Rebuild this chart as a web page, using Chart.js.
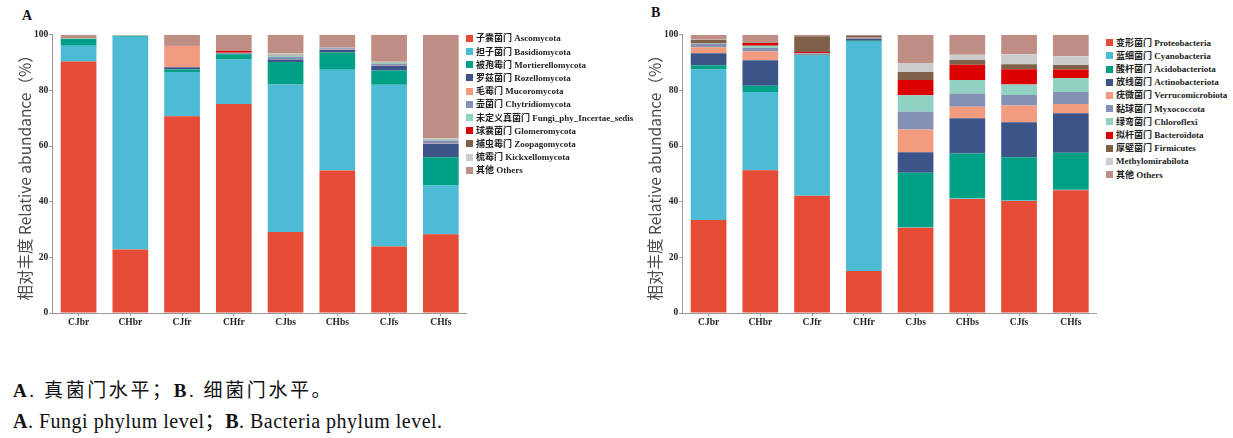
<!DOCTYPE html>
<html>
<head>
<meta charset="utf-8">
<script src="https://cdn.jsdelivr.net/npm/chart.js@4.4.1/dist/chart.umd.min.js"></script>
<style>
body { margin:0; background:#fff; width:1233px; height:438px; overflow:hidden; position:relative; font-family:"Liberation Serif","Noto Sans CJK SC",serif; }
.panel { position:absolute; top:0; }
.tag { position:absolute; font-weight:bold; font-size:14px; color:#111; }
.legend { position:absolute; font-size:9px; font-weight:bold; color:#222; }
.legend div { height:13.2px; line-height:13.2px; white-space:nowrap; }
.legend span { display:inline-block; width:7px; height:7px; margin-right:3px; vertical-align:-0.5px; }
.caption { position:absolute; left:13px; white-space:nowrap; color:#111; }
</style>
</head>
<body>
<div class="tag" style="left:22px;top:8px;">A</div>
<div class="tag" style="left:651px;top:5px;">B</div>
<canvas id="chartA" class="panel" width="470" height="335" style="left:0px;"></canvas>
<canvas id="chartB" class="panel" width="470" height="335" style="left:630px;"></canvas>
<div id="legendA" class="legend" style="left:466px;top:32.4px;"></div>
<div id="legendB" class="legend" style="left:1106px;top:36.7px;"></div>
<div class="caption" style="top:375px;font-size:19px;letter-spacing:2.6px;"><b>A</b>. 真菌门水平；<b>B</b>. 细菌门水平。</div>
<div class="caption" style="top:405px;font-size:20px;letter-spacing:0.5px;"><b>A</b>. Fungi phylum level；<b>B</b>. Bacteria phylum level.</div>

<script>
var samples = ['CJbr', 'CHbr', 'CJfr', 'CHfr', 'CJbs', 'CHbs', 'CJfs', 'CHfs'];
var yTicks = [0, 20, 40, 60, 80, 100];

// A: fungi, phylum level (%)
var ascomycota      = [90.4, 22.8, 70.7, 75.1, 29.1, 51.2, 23.9, 28.3];
var basidiomycota   = [5.6, 76.5, 15.9, 16.0, 53.0, 36.2, 58.1, 17.5];
var mortierellomycota = [2.5, 0.3, 0.9, 1.9, 8.1, 6.2, 5.1, 10.2];
var rozellomycota   = [0.05, 0.05, 0.8, 0.2, 0.9, 0.9, 1.7, 4.7];
var mucoromycota    = [0.05, 0.05, 7.6, 0.1, 0.1, 0.05, 0.1, 0.1];
var chytridiomycota = [0.05, 0.05, 0.1, 0.1, 0.8, 0.6, 0.6, 1.2];
var fungiIncertae   = [0.05, 0.05, 0.05, 0.1, 0.5, 0.05, 0.3, 0.3];
var glomeromycota   = [0, 0, 0.05, 0.7, 0.1, 0, 0.05, 0.05];
var zoopagomycota   = [0, 0, 0, 0, 0.2, 0, 0.05, 0.05];
var kickxellomycota = [0, 0, 0, 0, 0.4, 0.1, 0.4, 0.3];
var fungiOthers     = [1.3, 0.2, 3.9, 5.8, 6.8, 4.7, 9.7, 37.3];

var fungiNames = ['子囊菌门 Ascomycota', '担子菌门 Basidiomycota', '被孢霉门 Mortierellomycota',
    '罗兹菌门 Rozellomycota', '毛霉门 Mucoromycota', '壶菌门 Chytridiomycota',
    '未定义真菌门 Fungi_phy_Incertae_sedis', '球囊菌门 Glomeromycota', '捕虫霉门 Zoopagomycota',
    '梳霉门 Kickxellomycota', '其他 Others'];
var fungiSeries = [ascomycota, basidiomycota, mortierellomycota, rozellomycota, mucoromycota,
    chytridiomycota, fungiIncertae, glomeromycota, zoopagomycota, kickxellomycota, fungiOthers];

// B: bacteria, phylum level (%)
var proteobacteria    = [33.4, 51.3, 42.1, 15.1, 30.6, 41.0, 40.2, 44.1];
var cyanobacteria     = [54.1, 28.1, 50.3, 82.4, 0.2, 0.2, 0.2, 0.2];
var acidobacteriota   = [1.5, 2.3, 0.2, 0.3, 19.6, 16.1, 15.6, 13.3];
var actinobacteriota  = [4.3, 9.1, 0.3, 0.7, 7.4, 12.7, 12.5, 14.2];
var verrucomicrobiota = [2.2, 3.2, 0.1, 0.1, 8.1, 4.1, 6.1, 3.3];
var myxococcota       = [1.2, 1.2, 0.2, 0.2, 6.4, 4.8, 3.7, 4.3];
var chloroflexi       = [0.1, 0.8, 0.1, 0.1, 5.9, 4.8, 3.8, 5.0];
var bacteroidota      = [0.1, 1.0, 0.5, 0.1, 5.5, 5.5, 5.5, 3.1];
var firmicutes        = [1.2, 0.2, 5.6, 0.5, 2.9, 1.7, 1.8, 1.6];
var methylomirabilota = [0.1, 0.1, 0.1, 0.0, 3.2, 1.9, 3.6, 3.2];
var bacteriaOthers    = [1.8, 2.7, 0.5, 0.5, 10.2, 7.2, 7.0, 7.7];

var bacteriaNames = ['变形菌门 Proteobacteria', '蓝细菌门 Cyanobacteria', '酸杆菌门 Acidobacteriota',
    '放线菌门 Actinobacteriota', '疣微菌门 Verrucomicrobiota', '黏球菌门 Myxococcota',
    '绿弯菌门 Chloroflexi', '拟杆菌门 Bacteroidota', '厚壁菌门 Firmicutes',
    'Methylomirabilota', '其他 Others'];
var bacteriaSeries = [proteobacteria, cyanobacteria, acidobacteriota, actinobacteriota, verrucomicrobiota,
    myxococcota, chloroflexi, bacteroidota, firmicutes, methylomirabilota, bacteriaOthers];

var npgPalette = ['#E64B35', '#4DBBD5', '#00A087', '#3C5488', '#F39B7F', '#8491B4',
    '#91D1C2', '#DC0000', '#7E6148', '#CCCCCC', '#BE8E84'];

var tickFont = {family: '"Liberation Serif", serif', size: 9.5, weight: 'bold'};

function buildLegend(el, names) {
    var html = '';
    for (var i = 0; i < names.length; i++) {
        html += '<div><span style="background:' + npgPalette[i] + '"></span>' + names[i] + '</div>';
    }
    document.getElementById(el).innerHTML = html;
}

function create_stackedchart(series, names, labels, ctx) {
    var GraphDatasetsArray = [];
    for (var i = 0; i < series.length; i++) {
        GraphDatasetsArray[i] = {
            label: names[i],
            data: series[i],
            backgroundColor: npgPalette[i],
            borderWidth: 0,
            barPercentage: 0.69,
            categoryPercentage: 1.0
        };
    }

    return new Chart(ctx, {
        type: 'bar',
        data: {labels: labels, datasets: GraphDatasetsArray},
        options: {
            responsive: false,
            animation: false,
            layout: {padding: {top: 34.7, right: 3.3, left: 0, bottom: 0}},
            plugins: {legend: {display: false}, tooltip: {enabled: false}},
            scales: {
                x: {
                    stacked: true,
                    grid: {display: true, drawOnChartArea: false, offset: false, tickLength: 3, color: '#999'},
                    border: {display: true, color: '#999'},
                    ticks: {font: tickFont, color: '#222', padding: 1},
                    afterFit: function (scale) { scale.height = 22; }
                },
                y: {
                    stacked: true,
                    min: 0,
                    max: 100,
                    afterBuildTicks: function (scale) {
                        scale.ticks = yTicks.map(function (v) { return {value: v}; });
                    },
                    grid: {display: true, drawOnChartArea: false, tickLength: 3.5, color: '#999'},
                    border: {display: true, color: '#999'},
                    ticks: {font: tickFont, color: '#222', padding: 1},
                    title: {
                        display: true,
                        text: '相对丰度 Relative abundance（%）',
                        font: {family: '"Noto Sans CJK SC", sans-serif', size: 15.5, weight: 'normal'},
                        color: '#4a4a4a',
                        padding: {top: 15.7, bottom: 0}
                    },
                    afterFit: function (scale) { scale.width = 52.7; }
                }
            }
        }
    });
}

buildLegend('legendA', fungiNames);
buildLegend('legendB', bacteriaNames);
var chartA = create_stackedchart(fungiSeries, fungiNames, samples, document.getElementById('chartA'));
var chartB = create_stackedchart(bacteriaSeries, bacteriaNames, samples, document.getElementById('chartB'));
</script>
</body>
</html>
